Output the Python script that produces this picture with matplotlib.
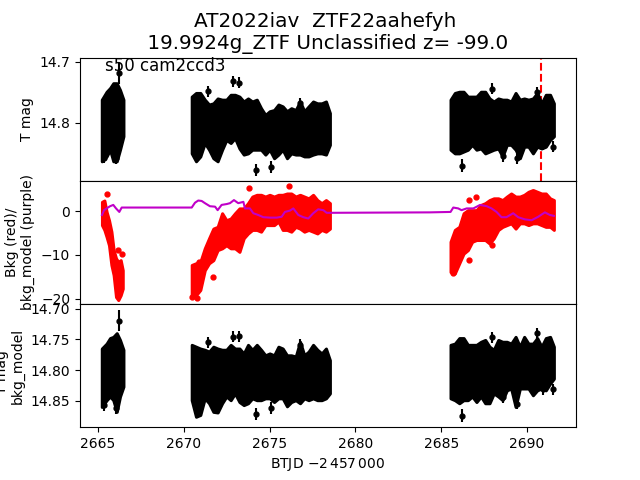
import matplotlib
matplotlib.use("Agg")
import matplotlib.pyplot as plt
import numpy as np

t_a = [2665.22, 2665.50, 2665.70, 2665.89, 2666.09, 2666.28, 2666.48]
t_b = [2670.46, 2670.71, 2670.96, 2671.22, 2671.47, 2671.72, 2671.97, 2672.23, 2672.48, 2672.73, 2672.98,
       2673.24, 2673.49, 2673.74, 2673.99, 2674.25, 2674.50, 2674.75, 2675.00, 2675.26, 2675.51, 2675.76,
       2676.01, 2676.26, 2676.52, 2676.77, 2677.02, 2677.27, 2677.53, 2677.78, 2678.03, 2678.28, 2678.51]
t_c = [2685.54, 2685.79, 2686.05, 2686.30, 2686.55, 2686.80, 2687.05, 2687.31, 2687.56, 2687.81, 2688.06,
       2688.32, 2688.57, 2688.82, 2689.07, 2689.33, 2689.58, 2689.83, 2690.08, 2690.34, 2690.59, 2690.84,
       2691.09, 2691.34, 2691.56]

# top panel: T mag, upper and lower edge of the point cloud
mag_hi_a = [14.762, 14.749, 14.743, 14.735, 14.735, 14.746, 14.762]
mag_lo_a = [14.863, 14.855, 14.844, 14.863, 14.863, 14.844, 14.822]
mag_hi_b = [14.757, 14.751, 14.751, 14.762, 14.770, 14.768, 14.760, 14.762, 14.762, 14.754, 14.754,
            14.757, 14.765, 14.760, 14.765, 14.762, 14.776, 14.787, 14.781, 14.779, 14.770, 14.773,
            14.781, 14.776, 14.779, 14.765, 14.781, 14.773, 14.765, 14.768, 14.768, 14.765, 14.784]
mag_lo_b = [14.850, 14.863, 14.855, 14.833, 14.844, 14.858, 14.863, 14.844, 14.828, 14.833, 14.825,
            14.842, 14.852, 14.850, 14.844, 14.844, 14.844, 14.852, 14.844, 14.858, 14.852, 14.844,
            14.858, 14.850, 14.852, 14.852, 14.855, 14.855, 14.852, 14.850, 14.850, 14.852, 14.836]
mag_hi_c = [14.762, 14.751, 14.749, 14.749, 14.757, 14.757, 14.757, 14.749, 14.749, 14.760, 14.765,
            14.760, 14.762, 14.762, 14.765, 14.751, 14.762, 14.760, 14.762, 14.760, 14.751, 14.768,
            14.754, 14.754, 14.768]
mag_lo_c = [14.844, 14.850, 14.850, 14.847, 14.844, 14.836, 14.844, 14.842, 14.850, 14.847, 14.844,
            14.842, 14.855, 14.836, 14.836, 14.844, 14.858, 14.839, 14.839, 14.850, 14.839, 14.842,
            14.839, 14.828, 14.822]
out_t = [2666.24, 2665.37, 2666.05, 2671.43, 2672.86, 2673.23, 2674.22, 2675.10, 2676.79,
         2687.97, 2686.22, 2690.55, 2688.61, 2689.43, 2690.94, 2691.49]
out_mag = [14.719, 14.857, 14.858, 14.748, 14.732, 14.734, 14.877, 14.872, 14.768,
           14.744, 14.870, 14.750, 14.855, 14.858, 14.836, 14.839]
out_err = [0.017, 0.009, 0.009, 0.009, 0.009, 0.009, 0.010, 0.010, 0.009,
           0.009, 0.010, 0.009, 0.009, 0.009, 0.009, 0.009]

# bottom panel: T mag minus bkg_model
det_hi_a = [14.765, 14.757, 14.748, 14.746, 14.740, 14.751, 14.767]
det_lo_a = [14.860, 14.849, 14.843, 14.849, 14.868, 14.843, 14.827]
det_hi_b = [14.759, 14.762, 14.765, 14.767, 14.770, 14.762, 14.765, 14.767, 14.767, 14.759, 14.765,
            14.765, 14.773, 14.759, 14.767, 14.759, 14.767, 14.776, 14.773, 14.776, 14.762, 14.765,
            14.776, 14.776, 14.778, 14.754, 14.776, 14.770, 14.759, 14.767, 14.773, 14.765, 14.784]
det_lo_b = [14.849, 14.876, 14.873, 14.846, 14.854, 14.868, 14.869, 14.854, 14.843, 14.849, 14.838,
            14.852, 14.857, 14.854, 14.846, 14.849, 14.849, 14.846, 14.846, 14.852, 14.846, 14.846,
            14.859, 14.852, 14.849, 14.854, 14.846, 14.849, 14.846, 14.849, 14.849, 14.846, 14.838]
det_hi_c = [14.759, 14.757, 14.748, 14.748, 14.759, 14.759, 14.759, 14.754, 14.751, 14.762, 14.767,
            14.751, 14.754, 14.754, 14.757, 14.746, 14.762, 14.746, 14.757, 14.757, 14.748, 14.762,
            14.748, 14.746, 14.762]
det_lo_c = [14.846, 14.849, 14.854, 14.849, 14.849, 14.843, 14.852, 14.843, 14.854, 14.854, 14.838,
            14.843, 14.849, 14.833, 14.830, 14.860, 14.830, 14.830, 14.830, 14.841, 14.833, 14.830,
            14.833, 14.822, 14.814]
out_det = [14.720, 14.857, 14.862, 14.755, 14.746, 14.745, 14.871, 14.862, 14.759,
           14.747, 14.874, 14.740, 14.844, 14.855, 14.831, 14.831]

# middle panel: background
t_r = [2665.23, 2665.37, 2665.50, 2665.64, 2665.78, 2665.91, 2666.05, 2666.18, 2666.32, 2666.44]
bkg_hi_a = [2.1, 2.4, -0.2, -2.1, -4.7, -8.9, -10.8, -11.6, -11.2, -13.5]
bkg_lo_a = [-3.2, -4.3, -5.9, -7.8, -12.3, -14.6, -19.6, -20.3, -19.2, -17.7]
bkg_hi_b = [-12.3, -11.9, -11.6, -8.5, -6.2, -4.0, -3.6, -0.5, -2.1, -1.7, -0.5,
            0.6, 0.6, 1.8, 3.3, 3.7, 3.7, 3.3, 3.7, 3.3, 3.7, 3.7,
            4.0, 4.0, 3.3, 3.7, 3.3, 2.9, 3.7, 2.5, 1.8, 2.5, 1.8]
bkg_lo_b = [-19.6, -19.2, -18.0, -13.5, -11.9, -11.2, -8.9, -8.5, -7.8, -8.5, -8.5,
            -9.3, -6.2, -5.1, -4.3, -4.3, -4.7, -3.2, -3.2, -3.2, -2.4, -4.3,
            -4.3, -4.7, -3.6, -4.0, -4.7, -4.3, -4.7, -5.1, -4.3, -4.7, -4.0]
bkg_hi_c = [-7.0, -4.3, -3.6, -0.5, 0.2, 0.2, 0.2, 1.4, 1.8, 2.5, 2.9,
            2.9, 2.5, 3.3, 4.0, 3.3, 3.3, 3.7, 4.4, 4.8, 4.4, 4.0, 4.0, 2.9, 2.5]
bkg_lo_c = [-13.9, -14.2, -11.9, -9.7, -8.9, -7.0, -6.6, -6.6, -6.6, -7.4, -6.2,
            -4.3, -3.6, -3.2, -2.8, -4.0, -2.8, -2.8, -3.2, -2.8, -2.8, -3.2, -3.6, -3.6, -4.3]
out_bkg_t = [2665.54, 2666.18, 2666.38, 2673.82, 2676.15, 2671.72, 2670.46, 2670.75, 2670.90,
             2686.63, 2687.04, 2686.63, 2685.70, 2687.93]
out_bkg = [3.8, -8.8, -9.8, 5.2, 5.6, -15.1, -19.5, -19.9, -11.6, 2.5, 3.1, -11.2, -14.2, -7.8]

# middle panel: bkg_model
model_t = [2665.23, 2665.35, 2665.50, 2665.70, 2665.89, 2666.05, 2666.24, 2666.38, 2670.46, 2670.65, 2670.84,
           2671.04, 2671.23, 2671.52, 2671.82, 2671.97, 2672.20, 2672.50, 2672.69, 2672.92, 2673.17, 2673.47,
           2673.56, 2673.85, 2674.05, 2674.34, 2674.63, 2675.02, 2675.41, 2675.70, 2675.89, 2676.18, 2676.38,
           2676.67, 2676.96, 2677.25, 2677.54, 2677.83, 2678.13, 2678.32, 2678.55, 2684.34, 2685.54, 2685.70,
           2685.99, 2686.18, 2686.48, 2686.87, 2687.26, 2687.65, 2687.93, 2688.22, 2688.51, 2688.80, 2689.19,
           2689.48, 2689.87, 2690.26, 2690.65, 2691.04, 2691.33, 2691.56]
model_v = [-0.9, 0.2, 0.6, 1.1, 1.4, 0.6, -0.2, 0.8, 0.8, 1.9, 2.4,
           2.3, 1.8, 1.1, 1.0, 0.2, 1.4, 1.6, 1.8, 2.5, 1.8, 2.1,
           0.6, 0.6, -0.5, -0.9, -1.4, -1.5, -1.5, -1.3, -0.2, 0.1, 0.6,
           -0.9, -1.4, -1.7, -0.5, 0.4, 0.2, -0.4, -0.4, -0.3, -0.2, 0.8,
           0.6, 0.2, 0.6, 0.6, 1.4, 1.1, 0.6, -0.2, -1.4, -1.4, -0.5,
           -1.4, -1.9, -2.1, -1.3, -0.3, -0.9, -1.1]

event_t = 2690.8
xticks = [2665, 2670, 2675, 2680, 2685, 2690]
mag_ticks = [14.7, 14.8]
bkg_ticks = [-20, -10, 0]
det_ticks = [14.70, 14.75, 14.80, 14.85]


def band(ax, t, hi, lo, color):
    # the cloud of points is too dense to read one by one: draw its outline
    ax.fill_between(t, hi, lo, color=color, lw=2.2, joinstyle="round")


fig, (ax1, ax2, ax3) = plt.subplots(3, 1, sharex=True, figsize=(6.4, 4.8), dpi=100)
fig.subplots_adjust(hspace=0)

for hi, lo, t in ((mag_hi_a, mag_lo_a, t_a), (mag_hi_b, mag_lo_b, t_b), (mag_hi_c, mag_lo_c, t_c)):
    band(ax1, t, hi, lo, "k")
ax1.errorbar(out_t, out_mag, yerr=out_err, fmt=".", color="k", markersize=7, elinewidth=1.5)
ax1.axvline(event_t, color="r", ls="--", lw=1.5, zorder=0.5)
ax1.set_ylim(14.895, 14.693)
ax1.set_yticks(mag_ticks)
ax1.set_yticklabels(["14.7", "14.8"])
ax1.set_ylabel("T mag")
ax1.text(0.05, 0.89, "s50 cam2ccd3", transform=ax1.transAxes, fontsize=12)
ax1.set_title("AT2022iav  ZTF22aahefyh\n 19.9924g_ZTF Unclassified z= -99.0", fontsize=14.4, pad=6, x=0.494)

band(ax2, t_r, bkg_hi_a, bkg_lo_a, "r")
band(ax2, t_b, bkg_hi_b, bkg_lo_b, "r")
band(ax2, t_c, bkg_hi_c, bkg_lo_c, "r")
ax2.plot(out_bkg_t, out_bkg, ".", color="r", markersize=7)
ax2.plot(model_t, model_v, "-", color="#c000c8", lw=1.5, zorder=5)
ax2.set_ylim(-21.2, 6.9)
ax2.set_yticks(bkg_ticks)
ax2.set_ylabel("Bkg (red)/\nbkg_model (purple)")

for hi, lo, t in ((det_hi_a, det_lo_a, t_a), (det_hi_b, det_lo_b, t_b), (det_hi_c, det_lo_c, t_c)):
    band(ax3, t, hi, lo, "k")
ax3.errorbar(out_t, out_det, yerr=out_err, fmt=".", color="k", markersize=7, elinewidth=1.5)
ax3.set_ylim(14.893, 14.6925)
ax3.set_yticks(det_ticks)
ax3.set_yticklabels(["14.70", "14.75", "14.80", "14.85"])
ax3.set_ylabel("T mag   \nbkg_model")
ax3.set_xlabel(r"BTJD $-2\,457\,000$")

ax3.set_xlim(2663.95, 2692.85)
ax3.set_xticks(xticks)
ax1.tick_params(axis="x", bottom=False)
ax2.tick_params(axis="x", bottom=False)

fig.savefig("out.png", dpi=100)
